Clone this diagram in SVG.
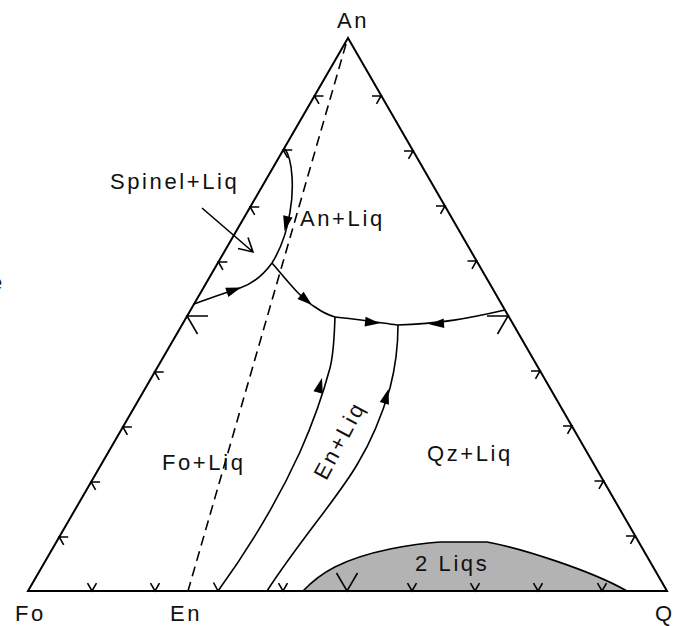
<svg xmlns="http://www.w3.org/2000/svg" xmlns:xlink="http://www.w3.org/1999/xlink" width="679" height="626" viewBox="0 0 679 626">
<style>
.edge{fill:none;stroke:#000;stroke-width:2;stroke-linejoin:miter}
.curve{fill:none;stroke:#000;stroke-width:1.6}
.tick{fill:none;stroke:#000;stroke-width:1.6}
.dash{fill:none;stroke:#000;stroke-width:1.6;stroke-dasharray:10,6}
.lbl{font-family:"Liberation Sans",Arial,sans-serif;font-size:22px;fill:#111;letter-spacing:2.6px}
</style>
<defs>
<path id="ah" d="M0,0 L-15,-4.8 L-15,4.8 Z" fill="#000"/>
<path id="tl" d="M9,0 L0,0 L4.5,7.8" class="tick"/>
<path id="tr" d="M-9,0 L0,0 L-4.5,7.8" class="tick"/>
<path id="tb" d="M-4.5,-7.8 L0,0 L4.5,-7.8" class="tick"/>
</defs>
<rect width="679" height="626" fill="#fff"/>

<g id="two-liqs">
<path d="M303,591 C320,573 342,559 390,549 C410,545 425,543 440,542 L487,542 C520,548 590,570 627,591 Z" fill="#b3b3b3" stroke="#000" stroke-width="1.6"/>
</g>

<g id="triangle">
<path class="edge" d="M28,591 L348,38 L667,591 Z"/>
</g>

<g id="join-line">
<path class="dash" d="M346,44 L188,591"/>
</g>

<g id="edge-ticks">
<use href="#tl" x="59.2" y="537"/>
<use href="#tl" x="91.1" y="482"/>
<use href="#tl" x="122.9" y="427"/>
<use href="#tl" x="154.7" y="372"/>
<use href="#tl" x="218.4" y="262"/>
<use href="#tl" x="250.2" y="207"/>
<use href="#tl" x="283.2" y="150"/>
<use href="#tl" x="314.5" y="96"/>
<path class="tick" d="M208,316 L187,316 L197.5,334"/>
<use href="#tr" x="381" y="96"/>
<use href="#tr" x="413" y="151"/>
<use href="#tr" x="445" y="206"/>
<use href="#tr" x="476.5" y="261"/>
<use href="#tr" x="540" y="371"/>
<use href="#tr" x="572" y="426"/>
<use href="#tr" x="603.5" y="481"/>
<use href="#tr" x="635" y="536"/>
<path class="tick" d="M487,316 L508,316 L497.5,334"/>
<use href="#tb" x="92" y="591"/>
<use href="#tb" x="155" y="591"/>
<path class="tick" d="M213.5,582.5 L218,591"/>
<use href="#tb" x="283" y="591"/>
<path class="tick" d="M336.5,573 L347,591 L357.5,573"/>
<use href="#tb" x="412" y="591"/>
<use href="#tb" x="475" y="591"/>
<use href="#tb" x="538" y="591"/>
<use href="#tb" x="602" y="591"/>
</g>

<g id="connectors">
<path class="curve" d="M285,149 C293,160 294,190 290,212 C287,232 280,250 272,263"/>
<path class="curve" d="M194,304 C210,298 228,292 240,288 C255,283 264,274 272,263"/>
<path class="curve" d="M272,263 C285,278 300,298 315,307 C322,312 328,315 335,317"/>
<path class="curve" d="M335,317 C355,319 375,322 397,325"/>
<path class="curve" d="M397,325 C440,324 470,318 505,310"/>
<path class="curve" d="M335,317 C334,340 334,352 330,368 C322,398 312,425 300,452 C285,485 262,530 218,591"/>
<path class="curve" d="M398,325 C398,345 396,365 390,388 C382,415 372,440 358,463 C340,495 300,540 267,591"/>
<use href="#ah" transform="translate(284.5,231) rotate(103)"/>
<use href="#ah" transform="translate(241,287.5) rotate(-19)"/>
<use href="#ah" transform="translate(312,305) rotate(40)"/>
<use href="#ah" transform="translate(380,323.2) rotate(6)"/>
<use href="#ah" transform="translate(429,324.3) rotate(176)"/>
<use href="#ah" transform="translate(322,378) rotate(-75)"/>
<use href="#ah" transform="translate(388.5,389) rotate(-74)"/>
<path class="tick" d="M202,208 L253,252 M238,248.5 L253,252 L248,237.5"/>
</g>

<g id="labels">
<text class="lbl" x="337" y="28">An</text>
<text class="lbl" x="15" y="621">Fo</text>
<text class="lbl" x="170" y="621">En</text>
<text class="lbl" x="655" y="621">Q</text>
<text class="lbl" x="110" y="189">Spinel+Liq</text>
<text class="lbl" x="300" y="226">An+Liq</text>
<text class="lbl" x="162" y="470">Fo+Liq</text>
<text class="lbl" x="427" y="461">Qz+Liq</text>
<text class="lbl" x="415" y="571">2 Liqs</text>
<text class="lbl" text-anchor="middle" transform="translate(339,440) rotate(-62)" y="8">En+Liq</text>
<text class="lbl" x="-10" y="290">e</text>
</g>
</svg>
